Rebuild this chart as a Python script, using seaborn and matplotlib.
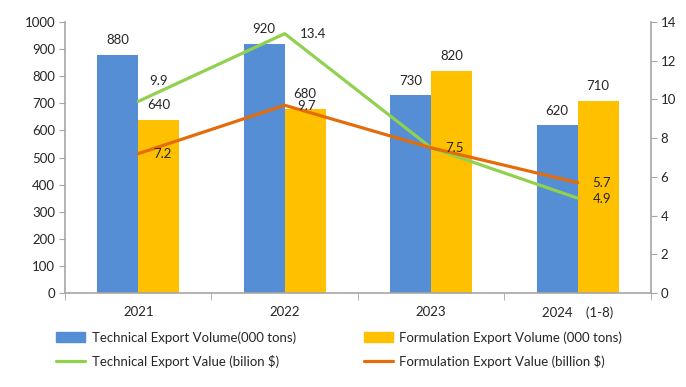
import matplotlib
matplotlib.use("Agg")
import matplotlib.pyplot as plt
import seaborn as sns
import numpy as np
import pandas as pd
from matplotlib.patches import Patch
from matplotlib.lines import Line2D

years = ["2021", "2022", "2023", "2024\u3000(1-8)"]
tech_volume = [880, 920, 730, 620]
form_volume = [640, 680, 820, 710]
tech_value = [9.9, 13.4, 7.5, 4.9]
form_value = [7.2, 9.7, 7.5, 5.7]

vol_names = ["Technical Export Volume(000 tons)", "Formulation Export Volume (000 tons)"]
val_names = ["Technical Export Value (bilion $)", "Formulation Export Value (billion $)"]

c_blue = "#558ED5"
c_yellow = "#FFC000"
c_green = "#92D050"
c_orange = "#E46C0A"

sns.set_style("white")
plt.rcParams['font.family'] = ['Lato', 'Noto Sans CJK SC', 'DejaVu Sans']

df = pd.DataFrame({
    "year": years * 2,
    "volume": tech_volume + form_volume,
    "series": [vol_names[0]] * 4 + [vol_names[1]] * 4,
})

fig = plt.figure(figsize=(6.86, 3.87), dpi=100)
ax = fig.add_axes([0.0948, 0.243, 0.854, 0.700])
sns.barplot(data=df, x="year", y="volume", hue="series", palette=[c_blue, c_yellow],
            width=0.56, ax=ax, legend=False, saturation=1, linewidth=0)
ax.set_ylim(0, 1000)
ax.set_xlim(-0.5, 3.5)
ax.set_yticks(range(0, 1001, 100))
ax.set_xlabel("")
ax.set_ylabel("")

for cont in ax.containers:
    ax.bar_label(cont, padding=6, fontsize=9.5)

ax2 = ax.twinx()
xs = np.arange(len(years))
sns.lineplot(x=xs, y=tech_value, color=c_green, lw=2.3, ax=ax2)
sns.lineplot(x=xs, y=form_value, color=c_orange, lw=2.3, ax=ax2)
ax2.set_ylim(0, 14)
ax2.set_yticks(range(0, 15, 2))
ax2.set_xlim(-0.5, 3.5)

offsets_tech = [(20, 20), (28, 0), (23, 0), (24, -1)]
offsets_form = [(24, 0), (22, -1), (23, 0), (24, 0)]
for i, v in enumerate(tech_value):
    if i == 2:
        continue
    ax2.annotate(f"{v}", (xs[i], v), xytext=offsets_tech[i], textcoords="offset pixels",
                 ha="center", va="center", fontsize=9.5)
for i, v in enumerate(form_value):
    ax2.annotate(f"{v}", (xs[i], v), xytext=offsets_form[i], textcoords="offset pixels",
                 ha="center", va="center", fontsize=9.5)

gray = "#A6A6A6"
for a in (ax, ax2):
    for s in a.spines.values():
        s.set_visible(False)
ax.spines["left"].set_visible(True)
ax.spines["bottom"].set_visible(True)
ax2.spines["right"].set_visible(True)
for s in (ax.spines["left"], ax.spines["bottom"], ax2.spines["right"]):
    s.set_color(gray)
    s.set_linewidth(1.2)

ax.tick_params(axis="y", left=True, length=4, color=gray, labelsize=9.5, pad=3)
ax2.tick_params(axis="y", right=True, length=4, color=gray, labelsize=9.5, pad=3)
ax.set_xticks(xs)
ax.set_xticks(np.arange(-0.5, 3.6, 1), minor=True)
ax.tick_params(axis="x", which="major", bottom=False, labelsize=9.5, pad=6)
ax.tick_params(axis="x", which="minor", bottom=True, length=5, color=gray)
ax2.tick_params(axis="x", bottom=False, top=False)

handles = [Patch(color=c_blue), Line2D([], [], color=c_green, lw=2.3),
           Patch(color=c_yellow), Line2D([], [], color=c_orange, lw=2.3)]
labels = [vol_names[0], val_names[0], vol_names[1], val_names[1]]
fig.legend(handles, labels, ncol=2, loc="upper left", bbox_to_anchor=(0.065, 0.175),
           frameon=False, fontsize=9.5, handlelength=2.2, handleheight=0.8,
           columnspacing=5.1, labelspacing=0.85, handletextpad=0.5)

fig.savefig("out.png", dpi=100)
